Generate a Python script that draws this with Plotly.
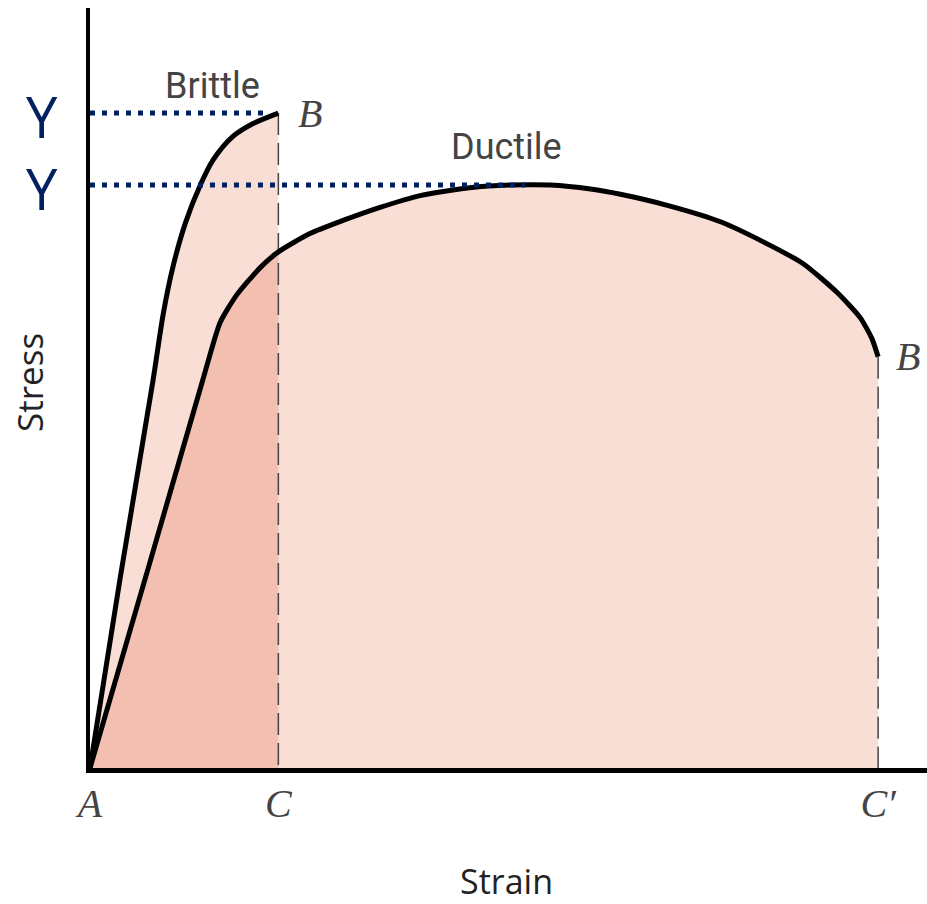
import plotly.graph_objects as go

# ---- data (strain in % of ductile fracture strain, stress in arbitrary units) ----
brittle_strain = [0, 3.8, 8.0, 9.3, 10.5, 12.1, 14.0, 15.6, 18.1, 20.7, 23.9]
brittle_stress = [0, 144, 296, 347, 382, 416, 445, 464, 482, 492, 500]

ductile_strain = [0, 7.6, 14.3, 16.5, 18.6, 21.6, 23.9, 27.9, 32.1, 36.8, 41.9, 48.2,
                  53.3, 58.4, 63.5, 67.3, 73.6, 80.0, 86.3, 90.5, 94.8, 97.7, 99.2, 100.0]
ductile_stress = [0, 157, 296, 340, 361, 382, 394, 408, 418, 428, 437, 443,
                  445, 445, 442, 438, 429, 417, 399, 385, 363, 344, 328, 314]

point_C = 23.9        # brittle fracture strain
point_C2 = 100.0      # ductile fracture strain
yield_levels = [500, 445]       # dotted "Y" levels
yield_line_ends = [22.2, 55.2]  # strain where dotted lines end
tick_vals = [0, point_C, point_C2]
tick_text = ["A", "C", "C′"]

LIGHT = "#F9DED5"
DARK = "#F2BFB0"
NAVY = "#002060"

fig = go.Figure()

# fills
fig.add_trace(go.Scatter(x=brittle_strain, y=brittle_stress, fill="tozeroy",
                         fillcolor=LIGHT, mode="none", hoverinfo="skip"))
fig.add_trace(go.Scatter(x=ductile_strain, y=ductile_stress, fill="tozeroy",
                         fillcolor=LIGHT, mode="none", hoverinfo="skip"))
k = ductile_strain.index(point_C) + 1
fig.add_trace(go.Scatter(x=ductile_strain[:k], y=ductile_stress[:k], fill="tozeroy",
                         fillcolor=DARK, mode="none", hoverinfo="skip"))

# dashed verticals at C and C'
fig.add_trace(go.Scatter(x=[point_C, point_C], y=[brittle_stress[-1], 0], mode="lines",
                         line=dict(color="#444444", width=1.5, dash="22px,8px")))
fig.add_trace(go.Scatter(x=[point_C2, point_C2], y=[ductile_stress[-1], 0], mode="lines",
                         line=dict(color="#444444", width=1.5, dash="22px,8px")))

# curves
fig.add_trace(go.Scatter(x=brittle_strain, y=brittle_stress, mode="lines",
                         line=dict(color="black", width=5, shape="spline", smoothing=0.8)))
fig.add_trace(go.Scatter(x=ductile_strain, y=ductile_stress, mode="lines",
                         line=dict(color="black", width=5, shape="spline", smoothing=0.6)))

# dotted yield lines
for lvl, end in zip(yield_levels, yield_line_ends):
    fig.add_trace(go.Scatter(x=[0, end], y=[lvl, lvl], mode="lines",
                             line=dict(color=NAVY, width=5, dash="5px,7px")))

ann = []
for lvl in yield_levels:
    ann.append(dict(x=-0.057, xref="paper", y=lvl, yref="y", text="Y", showarrow=False,
                    xanchor="center", yshift=-3,
                    font=dict(family="Open Sans", size=56, color=NAVY)))
ann += [
    dict(x=15.6, y=521, text="Brittle", showarrow=False, xanchor="center",
         font=dict(family="Roboto", size=36, color="#444444")),
    dict(x=52.9, y=474, text="Ductile", showarrow=False, xanchor="center",
         font=dict(family="Roboto", size=36, color="#444444")),
    dict(x=26.2, y=500, text="B", showarrow=False, xanchor="left",
         font=dict(family="Liberation Serif", size=40, color="#444444", style="italic")),
    dict(x=102.0, y=314, text="B", showarrow=False, xanchor="left",
         font=dict(family="Liberation Serif", size=40, color="#444444", style="italic")),
    dict(x=0.498, xref="paper", y=-0.149, yref="paper", text="Strain", showarrow=False,
         xanchor="center", yanchor="middle",
         font=dict(family="Open Sans", size=34, color="#222222")),
    dict(x=-0.0717, xref="paper", y=0.508, yref="paper", text="Stress", showarrow=False,
         xanchor="center", yanchor="middle", textangle=-90,
         font=dict(family="Open Sans", size=35, color="#222222")),
]

fig.update_layout(
    width=927, height=904,
    margin=dict(l=90, r=0, t=8, b=136),
    paper_bgcolor="white", plot_bgcolor="white",
    showlegend=False,
    annotations=ann,
    xaxis=dict(range=[0, 106.2], showgrid=False, zeroline=False,
               showline=True, linecolor="black", linewidth=5,
               tickvals=tick_vals, ticktext=tick_text, ticks="",
               ticklabelstandoff=-4,
               tickfont=dict(family="Liberation Serif", size=40, color="#444444", style="italic")),
    yaxis=dict(range=[0, 580.2], showgrid=False, zeroline=False,
               showline=True, linecolor="black", linewidth=4,
               showticklabels=False, ticks=""),
)

fig.write_html("out.html", config={"displayModeBar": False},
               post_script="document.body.style.margin='0';document.body.style.overflow='hidden';")
